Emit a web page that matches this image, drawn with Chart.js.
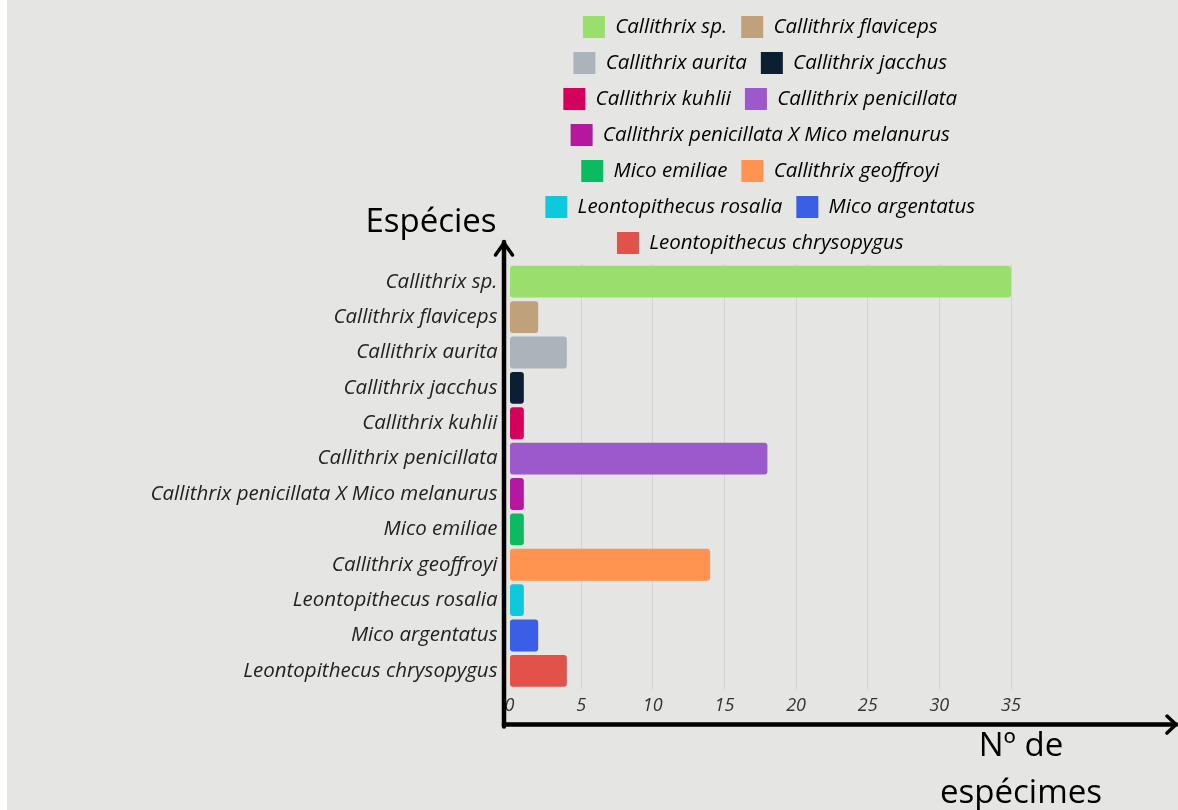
<!DOCTYPE html>
<html lang="pt">
<head>
<meta charset="utf-8">
<title>Espécies de saguis e micos</title>
<script src="https://cdn.jsdelivr.net/npm/chart.js@4.4.1/dist/chart.umd.min.js"></script>
<style>
  html, body { margin: 0; padding: 0; background: #ffffff; }
  #wrap { position: relative; width: 1178px; height: 810px; }
  canvas { display: block; }
</style>
</head>
<body>
<div id="wrap"><canvas id="chart" width="1178" height="810"></canvas></div>
<script>
// Espécies observadas e número de espécimes
const especies = [
  'Callithrix sp.',
  'Callithrix flaviceps',
  'Callithrix aurita',
  'Callithrix jacchus',
  'Callithrix kuhlii',
  'Callithrix penicillata',
  'Callithrix penicillata X Mico melanurus',
  'Mico emiliae',
  'Callithrix geoffroyi',
  'Leontopithecus rosalia',
  'Mico argentatus',
  'Leontopithecus chrysopygus'
];
const especimes = [35, 2, 4, 1, 1, 18, 1, 1, 14, 1, 2, 4];
const cores = [
  '#9ADF6E', '#BFA27C', '#ADB3BB', '#0B1F33', '#D3005C', '#9B59CB',
  '#B5179E', '#0CBA62', '#FF934F', '#0DC9DB', '#3B5EE6', '#E0524A'
];
const xTicks = [0, 5, 10, 15, 20, 25, 30, 35];
const tituloY = 'Espécies';
const tituloX = ['Nº de', 'espécimes'];

const fundo = '#E5E5E3';
const labelFont = { family: 'Open Sans', style: 'italic', size: 20.5 };
const tickFont = { family: 'Open Sans', style: 'italic', size: 18 };
const titleFont = '33px "Open Sans"';

// Page background with a thin white margin on the left
const fundoPlugin = {
  id: 'fundo',
  beforeDraw(chart) {
    const { ctx, width, height } = chart;
    ctx.save();
    ctx.fillStyle = '#ffffff';
    ctx.fillRect(0, 0, width, height);
    ctx.fillStyle = fundo;
    ctx.fillRect(7, 0, width - 7, height);
    ctx.restore();
  }
};

// Hand-drawn style axes with arrow heads and their titles
const eixosPlugin = {
  id: 'eixos',
  afterDraw(chart) {
    const { ctx, chartArea } = chart;
    const x0 = chartArea.left - 5.5;
    const yAxisTop = chartArea.top - 22;
    const yX = chartArea.bottom + 36;
    const xEnd = chart.width - 2;
    ctx.save();
    ctx.strokeStyle = '#000000';
    ctx.lineCap = 'round';
    ctx.lineJoin = 'round';
    // vertical axis
    ctx.lineWidth = 4.5;
    ctx.beginPath();
    ctx.moveTo(x0, yX + 2);
    ctx.lineTo(x0, yAxisTop);
    ctx.stroke();
    ctx.lineWidth = 3.5;
    ctx.beginPath();
    ctx.moveTo(x0 - 8.5, yAxisTop + 13);
    ctx.lineTo(x0, yAxisTop + 1);
    ctx.lineTo(x0 + 8.5, yAxisTop + 13);
    ctx.stroke();
    // horizontal axis
    ctx.lineWidth = 4.5;
    ctx.beginPath();
    ctx.moveTo(x0, yX);
    ctx.lineTo(xEnd, yX);
    ctx.stroke();
    ctx.lineWidth = 3.5;
    ctx.beginPath();
    ctx.moveTo(xEnd - 9, yX - 8.5);
    ctx.lineTo(xEnd, yX);
    ctx.lineTo(xEnd - 9, yX + 8.5);
    ctx.stroke();
    // titles
    ctx.fillStyle = '#000000';
    ctx.font = titleFont;
    ctx.textAlign = 'center';
    ctx.textBaseline = 'alphabetic';
    ctx.fillText(tituloY, x0 - 73, chartArea.top - 32);
    const cx = chartArea.right + 10;
    ctx.fillText(tituloX[0], cx, yX + 31);
    ctx.fillText(tituloX[1], cx, yX + 78);
    ctx.restore();
  }
};

new Chart(document.getElementById('chart'), {
  type: 'bar',
  data: {
    labels: especies,
    datasets: [{
      label: 'Nº de espécimes',
      data: especimes,
      backgroundColor: cores,
      borderColor: cores,
      borderWidth: 0,
      borderRadius: 3,
      borderSkipped: false,
      barPercentage: 0.9,
      categoryPercentage: 1.0
    }]
  },
  options: {
    indexAxis: 'y',
    responsive: false,
    animation: false,
    layout: { padding: { top: 2, right: 167, left: 0, bottom: 0 } },
    plugins: {
      tooltip: { enabled: false },
      legend: {
        display: true,
        position: 'top',
        align: 'center',
        fullSize: false,
        labels: {
          boxWidth: 22,
          boxHeight: 22,
          padding: 14,
          color: '#222222',
          font: labelFont,
          generateLabels(chart) {
            return especies.map((nome, i) => ({
              text: nome,
              fillStyle: cores[i],
              strokeStyle: cores[i],
              lineWidth: 0,
              hidden: false,
              index: i,
              datasetIndex: 0
            }));
          }
        }
      }
    },
    scales: {
      x: {
        type: 'linear',
        min: 0,
        max: 35,
        afterBuildTicks(scale) {
          scale.ticks = xTicks.map(v => ({ value: v }));
        },
        afterFit(scale) { scale.height = 121.4; },
        border: { display: false },
        grid: {
          drawTicks: false,
          lineWidth: 1,
          color: ctx => (ctx.tick && ctx.tick.value === 0) ? 'rgba(0,0,0,0)' : '#D3D3D1'
        },
        ticks: {
          padding: 6,
          color: '#333333',
          font: tickFont
        }
      },
      y: {
        afterFit(scale) { scale.width = 509.5; },
        border: { display: false },
        grid: { display: false, drawTicks: false },
        ticks: {
          padding: 12,
          color: '#222222',
          font: labelFont
        }
      }
    }
  },
  plugins: [fundoPlugin, eixosPlugin]
});
</script>
</body>
</html>
